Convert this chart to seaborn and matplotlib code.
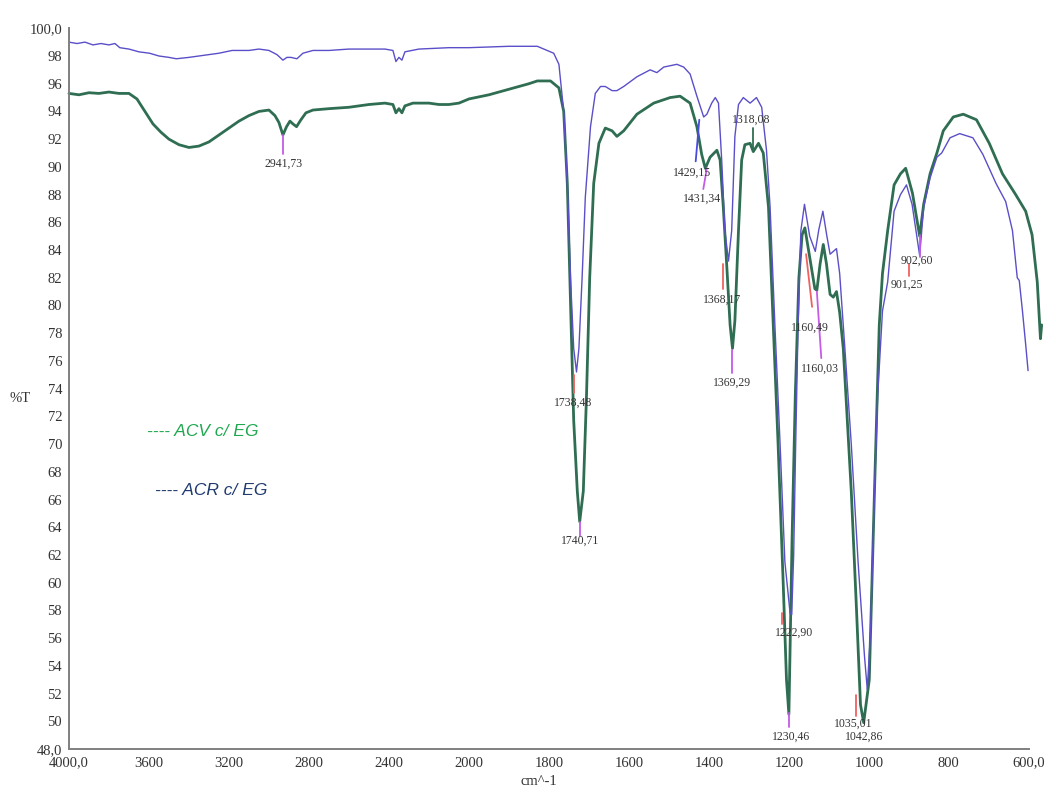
import numpy as np
import pandas as pd
import matplotlib
matplotlib.use("Agg")
import matplotlib.pyplot as plt
import seaborn as sns

# ACV c/ EG (green)
acv_wn = [4000, 3950, 3900, 3850, 3800, 3750, 3700, 3660, 3620, 3580, 3540, 3500, 3450, 3400, 3350,
          3300, 3250, 3200, 3150, 3100, 3050, 3000, 2970, 2950, 2930, 2912, 2895, 2880, 2862, 2840,
          2815, 2780, 2700, 2600, 2500, 2420, 2380, 2365, 2350, 2335, 2320, 2280, 2200, 2150, 2100,
          2050, 2000, 1950, 1900, 1850, 1829, 1796, 1775, 1763, 1754, 1746, 1738, 1729, 1723, 1714,
          1706, 1698, 1688, 1675, 1659, 1642, 1630, 1613, 1580, 1538, 1497, 1472, 1447, 1430, 1418,
          1409, 1397, 1380, 1372, 1364, 1355, 1347, 1341, 1335, 1326, 1318, 1310, 1297, 1289, 1276,
          1264, 1251, 1239, 1227, 1214, 1206, 1200, 1192, 1184, 1175, 1167, 1160, 1148, 1135, 1130,
          1122, 1114, 1106, 1097, 1089, 1081, 1073, 1064, 1044, 1031, 1021, 1013, 999, 986, 974,
          966, 953, 937, 921, 908, 891, 873, 863, 847, 830, 814, 789, 764, 731, 699, 666, 633, 608,
          592, 579, 571, 568]
acv_t = [95.3, 95.2, 95.35, 95.3, 95.4, 95.3, 95.3, 94.9, 94.0, 93.1, 92.5, 92.0, 91.6, 91.4, 91.5,
         91.8, 92.3, 92.8, 93.3, 93.7, 94.0, 94.1, 93.7, 93.2, 92.3, 92.9, 93.3, 93.1, 92.9, 93.4,
         93.9, 94.1, 94.2, 94.3, 94.5, 94.6, 94.5, 93.9, 94.2, 93.9, 94.4, 94.6, 94.6, 94.5, 94.5,
         94.6, 94.9, 95.2, 95.6, 96.0, 96.2, 96.2, 95.7, 94.0, 88.8, 80.3, 71.7, 66.6, 64.4, 66.6,
         73.5, 82.0, 88.8, 91.7, 92.8, 92.6, 92.2, 92.6, 93.8, 94.6, 95.0, 95.1, 94.6, 92.9, 90.9,
         89.9, 90.7, 91.2, 90.5, 87.1, 82.7, 78.6, 76.9, 78.9, 85.4, 90.5, 91.6, 91.7, 91.1, 91.7,
         91.0, 87.1, 78.6, 70.0, 59.8, 53.0, 50.5, 63.2, 73.5, 82.0, 85.1, 85.6, 83.5, 81.2, 81.1,
         83.0, 84.4, 83.0, 80.8, 80.6, 81.0, 79.5, 76.9, 66.6, 58.1, 51.2, 49.9, 53.0, 66.6, 78.6,
         82.3, 85.4, 88.7, 89.5, 89.9, 88.1, 85.0, 87.3, 89.5, 91.0, 92.6, 93.6, 93.8, 93.4, 91.7,
         89.5, 88.0, 86.8, 85.1, 81.7, 77.6, 78.6]

# ACR c/ EG (blue)
acr_wn = [4000, 3960, 3920, 3880, 3840, 3800, 3770, 3746, 3700, 3650, 3597, 3550, 3500, 3463, 3400,
          3348, 3300, 3250, 3184, 3100, 3050, 3000, 2960, 2930, 2910, 2890, 2860, 2830, 2780, 2700,
          2600, 2500, 2420, 2380, 2365, 2350, 2335, 2320, 2250, 2100, 2000, 1900, 1829, 1788, 1775,
          1763, 1754, 1746, 1738, 1731, 1725, 1717, 1709, 1696, 1684, 1671, 1659, 1642, 1630, 1613,
          1580, 1547, 1530, 1513, 1480, 1463, 1447, 1430, 1413, 1405, 1393, 1384, 1376, 1368, 1360,
          1351, 1343, 1335, 1326, 1314, 1297, 1281, 1268, 1256, 1247, 1235, 1222, 1210, 1197, 1193,
          1188, 1183, 1177, 1170, 1161, 1148, 1134, 1125, 1115, 1105, 1097, 1081, 1073, 1060, 1044,
          1027, 1011, 1004, 996, 986, 978, 966, 953, 937, 921, 906, 892, 873, 863, 847, 830, 818,
          797, 773, 740, 715, 682, 658, 641, 629, 624, 616, 608, 602]
acr_t = [99.0, 98.9, 99.0, 98.8, 98.9, 98.8, 98.9, 98.6, 98.5, 98.3, 98.2, 98.0, 97.9, 97.8, 97.9,
         98.0, 98.1, 98.2, 98.4, 98.4, 98.5, 98.4, 98.1, 97.7, 97.9, 97.9, 97.8, 98.2, 98.4, 98.4,
         98.5, 98.5, 98.5, 98.4, 97.6, 97.9, 97.7, 98.3, 98.5, 98.6, 98.6, 98.7, 98.7, 98.2, 97.4,
         94.0, 88.8, 82.0, 76.9, 75.2, 76.9, 82.0, 87.8, 92.9, 95.3, 95.8, 95.8, 95.5, 95.5, 95.8,
         96.5, 97.0, 96.8, 97.2, 97.4, 97.2, 96.7, 95.1, 93.6, 93.8, 94.6, 95.0, 94.6, 90.5, 85.4,
         83.2, 85.4, 92.2, 94.5, 95.0, 94.6, 95.0, 94.3, 91.2, 87.1, 78.6, 70.0, 61.5, 57.8, 57.7,
         62.0, 70.0, 78.6, 85.4, 87.3, 85.0, 83.9, 85.5, 86.8, 85.0, 83.7, 84.1, 82.3, 76.9, 70.0,
         61.5, 54.7, 52.3, 56.4, 66.6, 73.5, 79.6, 81.7, 86.8, 88.0, 88.7, 87.3, 83.6, 87.1, 89.2,
         90.7, 91.0, 92.1, 92.4, 92.1, 90.9, 88.8, 87.5, 85.4, 82.0, 81.8, 79.6, 77.2, 75.3]

# peak labels
peak_text = ["2941,73", "1738,48", "1740,71", "1429,15", "1431,34", "1368,17", "1369,29", "1318,08",
             "1222,90", "1230,46", "1160,49", "1160,03", "1035,01", "1042,86", "902,60", "901,25"]
peak_wn = [2925, 1739, 1723, 1443, 1418, 1368, 1341, 1293, 1187, 1194, 1147, 1122, 1038, 1013, 879, 904]
peak_t = [90.2, 73.0, 63.0, 89.6, 87.7, 80.4, 74.4, 93.4, 56.4, 48.9, 78.4, 75.4, 49.85, 48.85, 83.2, 81.5]

# little marker strokes pointing at the peaks
mark_wn0 = [2930, 1738, 1723, 1424, 1405, 1364, 1341, 1289, 1216, 1200, 1157, 1130, 1033, 871, 900]
mark_t0 = [92.3, 75.0, 64.4, 93.4, 89.9, 83.0, 76.8, 92.8, 57.8, 50.6, 83.7, 81.0, 51.9, 85.1, 83.0]
mark_wn1 = [2930, 1738, 1723, 1433, 1414, 1364, 1341, 1289, 1216, 1200, 1142, 1119, 1033, 871, 900]
mark_t1 = [90.9, 73.7, 63.4, 90.4, 88.4, 81.2, 75.1, 91.2, 57.0, 49.6, 79.9, 76.2, 50.4, 83.5, 82.1]
mark_color = ["#c45ce6", "#f06060", "#c45ce6", "#4a4ae0", "#c45ce6", "#f06060", "#c45ce6", "#2f6e52",
              "#f06060", "#c45ce6", "#f06060", "#c45ce6", "#f06060", "#c45ce6", "#f06060"]

x_ticks = [4000, 3600, 3200, 2800, 2400, 2000, 1800, 1600, 1400, 1200, 1000, 800, 600]
x_labels = ["4000,0", "3600", "3200", "2800", "2400", "2000", "1800", "1600", "1400", "1200",
            "1000", "800", "600,0"]
y_ticks = list(range(48, 101, 2))
y_labels = ["48,0"] + [str(v) for v in y_ticks[1:-1]] + ["100,0"]


def fwd(x):
    x = np.asarray(x, dtype=float)
    return np.where(x > 2000, 2000 + (x - 2000) / 2, x)


def inv(u):
    u = np.asarray(u, dtype=float)
    return np.where(u > 2000, 2000 + (u - 2000) * 2, u)


sns.set_style("white")
plt.rcParams['font.family'] = ['Liberation Serif', 'DejaVu Serif']

fig = plt.figure(figsize=(10.56, 7.92), dpi=100)
ax = fig.add_axes([0.0653, 0.0543, 0.909, 0.910])
ax.set_xscale('function', functions=(fwd, inv))

acv = pd.DataFrame({"wn": acv_wn, "T": acv_t})
acr = pd.DataFrame({"wn": acr_wn, "T": acr_t})
sns.lineplot(data=acv, x="wn", y="T", ax=ax, color="#2f6e52", lw=2.0, sort=False,
             estimator=None, clip_on=False)
sns.lineplot(data=acr, x="wn", y="T", ax=ax, color="#5a4fc8", lw=1.0, sort=False,
             estimator=None, clip_on=False)

for i in range(len(mark_wn0)):
    ax.plot([mark_wn0[i], mark_wn1[i]], [mark_t0[i], mark_t1[i]], color=mark_color[i], lw=1.3)

for txt, w, t in zip(peak_text, peak_wn, peak_t):
    ax.text(w, t, txt, fontsize=8.5, color="#333333", ha="center", va="center")

ax.set_xlim(4000, 600)
ax.set_ylim(48, 100)
ax.set_xticks(x_ticks)
ax.set_xticklabels(x_labels)
ax.xaxis.set_minor_locator(matplotlib.ticker.NullLocator())
ax.set_yticks(y_ticks)
ax.set_yticklabels(y_labels)

ax.tick_params(axis='y', direction='out', length=3, width=1, color="#808080",
               labelsize=10.5, labelcolor="#333333", pad=2)
ax.tick_params(axis='x', direction='inout', length=5, width=1, color="#808080",
               labelsize=10.5, labelcolor="#333333", pad=3)

sns.despine(ax=ax)
for s in ["left", "bottom"]:
    ax.spines[s].set_color("#808080")
    ax.spines[s].set_linewidth(1.4)

ax.set_xlabel("cm^-1", fontsize=10.5, color="#333333")
ax.xaxis.set_label_coords(0.49, -0.036)
ax.set_ylabel("%T", fontsize=10.5, rotation=0, color="#333333", ha="center", va="center")
ax.yaxis.set_label_coords(-0.051, 0.487)

ax.text(0.081, 0.44, "---- ACV c/ EG", transform=ax.transAxes, fontsize=12.5, style="italic",
        family=["Liberation Sans", "DejaVu Sans"], color="#1fa84f", va="center", ha="left")
ax.text(0.0896, 0.359, "---- ACR c/ EG", transform=ax.transAxes, fontsize=12.5, style="italic",
        family=["Liberation Sans", "DejaVu Sans"], color="#1f3a6e", va="center", ha="left")

fig.savefig("out.png", dpi=100, facecolor="white")
